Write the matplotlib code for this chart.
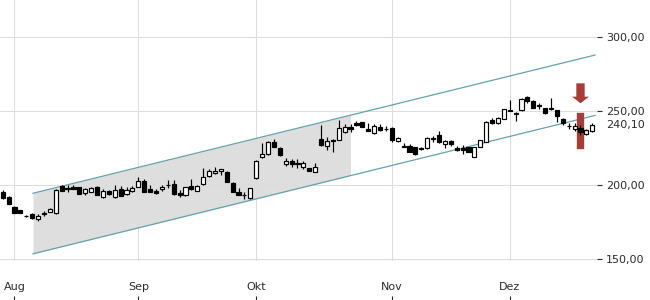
# candlestick chart with a trend channel
import numpy as np
import matplotlib.pyplot as plt

# daily OHLC, one entry per trading day (late Jul .. mid Dec)
opens = [195.1, 191.5, 184.7, 182.7, 179.1, 180.2, 176.5, 180.3, 181.6, 180.9,
         198.9, 196.8, 198.7, 198.2, 194.4, 195.1, 198.5, 191.5, 195.7, 191.5,
         197.1, 193.5, 195.7, 198.6, 202.5, 197.1, 195.5, 196.9, 199.6, 200.5,
         194.2, 193.0, 199.3, 196.0, 200.3, 206.1, 207.7, 209.1, 208.4, 201.0,
         195.3, 192.9, 190.8, 204.3, 218.5, 220.5, 228.6, 224.6, 214.0, 216.0,
         214.3, 212.2, 211.1, 208.8, 230.7, 226.4, 229.5, 230.2, 235.4, 239.2,
         241.5, 242.2, 237.6, 234.7, 238.8, 237.8, 238.1, 229.5, 226.0, 226.4,
         225.3, 224.4, 224.6, 231.2, 233.6, 227.3, 229.7, 225.0, 224.6, 225.3,
         218.9, 225.7, 229.1, 243.7, 241.5, 244.4, 250.5, 248.0, 250.3, 259.3,
         256.6, 253.2, 251.6, 252.0, 250.5, 244.2, 239.5, 237.4, 238.5, 234.1,
         236.3]
highs = [196.2, 192.2, 185.3, 183.0, 179.3, 180.8, 180.2, 182.1, 184.3, 197.4,
         199.6, 199.6, 200.0, 198.5, 197.8, 198.3, 199.2, 196.9, 196.4, 199.8,
         199.1, 198.2, 199.3, 205.4, 203.6, 199.8, 196.9, 199.8, 203.2, 203.2,
         196.4, 198.6, 203.6, 199.8, 211.1, 210.4, 212.2, 210.8, 209.5, 202.0,
         197.6, 195.3, 197.9, 216.6, 228.0, 229.3, 230.7, 225.7, 217.8, 217.1,
         217.1, 215.8, 211.3, 214.9, 240.3, 232.4, 230.7, 243.7, 240.8, 241.0,
         243.0, 242.5, 241.9, 241.3, 240.8, 239.7, 238.8, 232.4, 228.0, 227.3,
         225.6, 225.5, 232.4, 233.1, 236.5, 230.0, 230.0, 226.4, 227.0, 225.6,
         225.7, 230.5, 243.0, 244.9, 245.7, 251.2, 257.2, 248.9, 258.3, 260.1,
         257.0, 255.0, 252.0, 258.8, 250.8, 245.3, 241.9, 241.5, 240.3, 237.4,
         241.5]
lows = [190.3, 186.8, 180.8, 180.8, 178.0, 177.0, 175.7, 179.0, 181.3, 180.5,
        195.5, 195.1, 196.9, 193.6, 193.2, 194.8, 193.0, 190.8, 193.0, 191.3,
        192.4, 193.0, 195.1, 198.4, 195.0, 195.0, 194.0, 196.0, 197.6, 193.0,
        191.9, 192.4, 196.5, 195.7, 199.8, 205.4, 207.4, 206.6, 201.8, 195.1,
        193.0, 190.3, 190.5, 204.0, 218.0, 220.3, 225.3, 219.6, 212.6, 211.8,
        211.1, 210.4, 209.2, 208.5, 226.4, 223.4, 222.3, 229.9, 235.0, 235.4,
        239.5, 239.0, 236.0, 234.4, 236.5, 236.5, 229.0, 228.6, 225.3, 221.9,
        219.9, 223.6, 224.1, 229.1, 228.3, 224.6, 226.4, 222.8, 220.7, 222.0,
        218.5, 225.4, 228.8, 240.8, 241.2, 244.1, 249.5, 243.0, 250.0, 255.0,
        251.7, 251.1, 247.9, 250.7, 242.2, 240.3, 237.6, 236.5, 233.6, 233.8,
        235.8]
closes = [191.0, 187.0, 181.1, 181.1, 179.0, 177.6, 178.9, 181.1, 183.8, 196.6,
          196.0, 197.6, 197.2, 193.9, 197.1, 197.8, 193.0, 196.0, 193.5, 196.4,
          192.6, 196.4, 198.0, 202.7, 195.3, 195.3, 194.3, 198.6, 200.0, 193.7,
          193.0, 198.2, 196.9, 199.3, 205.4, 209.5, 209.5, 210.4, 202.0, 195.3,
          193.2, 193.2, 197.6, 216.2, 220.7, 228.6, 225.7, 219.9, 216.2, 214.0,
          214.7, 214.5, 209.5, 212.2, 226.8, 229.7, 229.9, 238.1, 239.2, 237.6,
          240.1, 239.2, 236.3, 239.9, 237.0, 237.4, 230.2, 231.4, 225.6, 222.3,
          220.9, 224.8, 231.8, 231.6, 228.6, 229.7, 227.3, 223.4, 223.4, 222.3,
          225.3, 230.2, 242.6, 241.5, 245.3, 250.9, 249.8, 248.4, 257.9, 256.6,
          252.0, 253.6, 248.2, 250.9, 246.4, 241.5, 239.9, 239.9, 235.8, 237.0,
          240.1]

month_labels = ['Aug', 'Sep', 'Okt', 'Nov', 'Dez']
month_pos = [2, 23, 43, 66, 86]
price_ticks = [150, 200, 250, 300]
last_price = 240.10

# trend channel (start/end in trading-day index)
chan_x = [5.14, 100.46]
chan_upper = [194.2, 287.6]
chan_lower = [153.3, 246.8]
shade_end = 59

# signal marker
signal_day = 98
arrow_from, arrow_to = 268.5, 255.0
bar_from, bar_to = 226.5, 246.1

red = '#a63d36'
teal = '#62a3ad'
txt = '#2b2b2b'

fig = plt.figure(figsize=(6.5, 3), dpi=100)
ax = fig.add_axes([0, 0.13, 597 / 650, 0.87])

# shaded part of channel
xs = np.array([chan_x[0], shade_end])
ax.fill_between(xs, np.interp(xs, chan_x, chan_lower), np.interp(xs, chan_x, chan_upper),
                color='#dedede', lw=0, zorder=1)
ax.plot(chan_x, chan_upper, color=teal, lw=0.9, zorder=1.6)
ax.plot(chan_x, chan_lower, color=teal, lw=0.9, zorder=1.6)

# red signal bar + arrow
ax.vlines(signal_day, bar_from, bar_to, color=red, lw=5.3, capstyle='projecting', zorder=1.8)
ax.annotate('', xy=(signal_day, arrow_to), xytext=(signal_day, arrow_from),
            arrowprops=dict(arrowstyle='simple,head_length=4.8,head_width=12.2,tail_width=6',
                            mutation_scale=1, color=red, lw=0, shrinkA=0, shrinkB=0))

# candles
o = np.array(opens)
c = np.array(closes)
idx = np.arange(len(o))
up = c >= o
ax.vlines(idx, lows, highs, color='black', lw=0.85, zorder=2)
ax.bar(idx, np.abs(c - o), bottom=np.minimum(o, c), width=0.7,
       color=np.where(up, 'white', 'black'), edgecolor='black', linewidth=0.85, zorder=3)

ax.set_xlim(-0.458, 100.8)
ax.set_ylim(148.45, 324.8)

ax.grid(True, color='#dddddd', lw=0.75)
for s in ax.spines.values():
    s.set_visible(False)

ax.set_xticks(month_pos)
ax.set_xticklabels(month_labels)
ax.tick_params(axis='x', length=0, pad=15, labelsize=8, labelcolor=txt)

ax.yaxis.tick_right()
ax.set_yticks(price_ticks)
ax.set_yticklabels([f'{v:.2f}'.replace('.', ',') for v in price_ticks])
ax.tick_params(axis='y', length=3.6, width=0.8, color=txt, pad=2.9, labelsize=8, labelcolor=txt)

ax.annotate(f'{last_price:.2f}'.replace('.', ','), xy=(1, last_price),
            xycoords=('axes fraction', 'data'), xytext=(9, 0), textcoords='offset pixels',
            ha='left', va='center', fontsize=8, color=txt)

# small tick marks at the very bottom, below month names
sec = ax.secondary_xaxis(-39 / 261)
sec.set_xticks(month_pos)
sec.set_xticklabels([])
sec.tick_params(axis='x', direction='in', length=3, width=0.8, color=txt)
sec.spines['bottom'].set_visible(False)

fig.savefig('out.png', dpi=100)
